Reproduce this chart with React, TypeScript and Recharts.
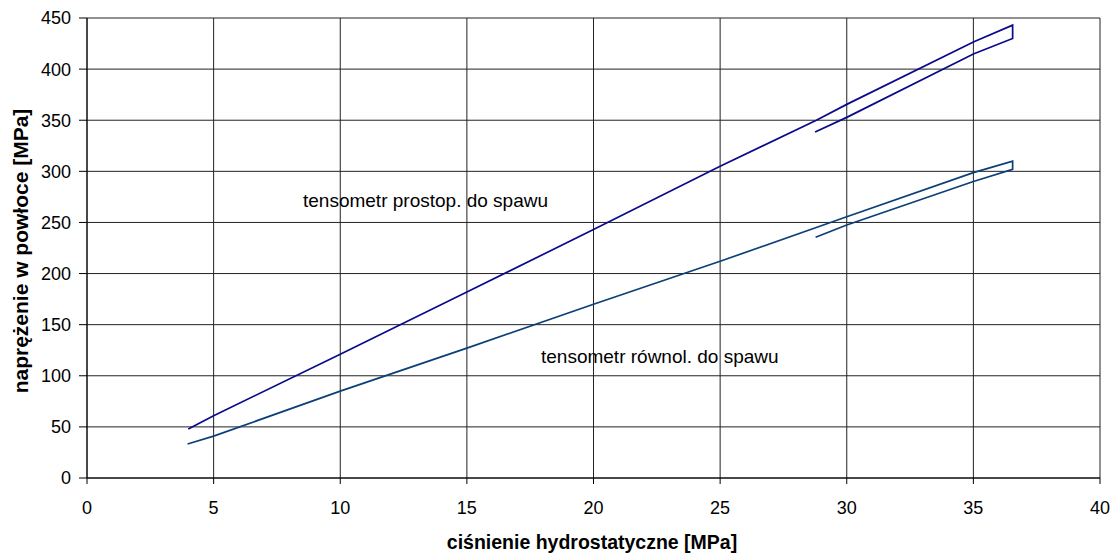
import { LineChart, Line, XAxis, YAxis, CartesianGrid } from "recharts";

// tensometr prostop. do spawu: loading up, short drop, unloading back
const prostopX = [4.0, 5, 10, 15, 20, 25, 28.8, 30, 35, 36.55, 36.55, 35, 30, 28.75];
const prostopY = [48, 61, 121, 182, 243, 305, 350, 365.5, 426.5, 443, 430, 414.8, 352.8, 338.5];

// tensometr równol. do spawu
const rownolX = [3.97, 5, 10, 15, 20, 25, 30, 35, 36.55, 36.55, 35, 30, 28.77];
const rownolY = [33.3, 41, 85, 127, 170, 212, 255.6, 298.7, 310, 302, 290, 247.5, 235.5];

const xTicks = [0, 5, 10, 15, 20, 25, 30, 35, 40];
const yTicks = [0, 50, 100, 150, 200, 250, 300, 350, 400, 450];

const toPoints = (xs: number[], ys: number[]) => xs.map((x, i) => ({ x, y: ys[i] }));

const font = "Arial, 'Liberation Sans', sans-serif";

export default function App() {
  const prostop = toPoints(prostopX, prostopY);
  const rownol = toPoints(rownolX, rownolY);

  return (
    <div style={{ position: "absolute", left: 0, top: 0, width: 1117, height: 553, background: "#fff", fontFamily: font }}>
      <LineChart width={1117} height={553} margin={{ top: 18, right: 17, left: 0, bottom: 0 }}>
        <CartesianGrid stroke="#222" strokeWidth={1} />
        <XAxis
          type="number"
          dataKey="x"
          domain={[0, 40]}
          ticks={xTicks}
          height={75}
          tickSize={6}
          tickMargin={17}
          stroke="#000"
          tick={{ fill: "#000", fontSize: 18, fontFamily: font }}
        />
        <YAxis
          type="number"
          dataKey="y"
          domain={[0, 450]}
          ticks={yTicks}
          width={87}
          tickSize={8}
          tickMargin={8}
          stroke="#000"
          tick={{ fill: "#000", fontSize: 18, fontFamily: font }}
        />
        <Line
          data={prostop}
          dataKey="y"
          type="linear"
          stroke="#0a0a8c"
          strokeWidth={1.7}
          dot={false}
          isAnimationActive={false}
        />
        <Line
          data={rownol}
          dataKey="y"
          type="linear"
          stroke="#0b3f78"
          strokeWidth={1.7}
          dot={false}
          isAnimationActive={false}
        />
      </LineChart>

      {/* series annotations */}
      <div style={{ position: "absolute", left: 303, top: 190, fontSize: 19, color: "#000", whiteSpace: "nowrap" }}>
        tensometr prostop. do spawu
      </div>
      <div style={{ position: "absolute", left: 541, top: 346, fontSize: 19, color: "#000", whiteSpace: "nowrap" }}>
        tensometr równol. do spawu
      </div>

      {/* axis titles */}
      <div
        style={{
          position: "absolute",
          left: 592,
          top: 531,
          transform: "translateX(-50%)",
          fontSize: 19.5,
          fontWeight: "bold",
          whiteSpace: "nowrap",
        }}
      >
        ciśnienie hydrostatyczne [MPa]
      </div>
      <div
        style={{
          position: "absolute",
          left: 21,
          top: 251,
          transform: "translate(-50%, -50%) rotate(-90deg)",
          fontSize: 21,
          fontWeight: "bold",
          whiteSpace: "nowrap",
        }}
      >
        naprężenie w powłoce [MPa]
      </div>
    </div>
  );
}
